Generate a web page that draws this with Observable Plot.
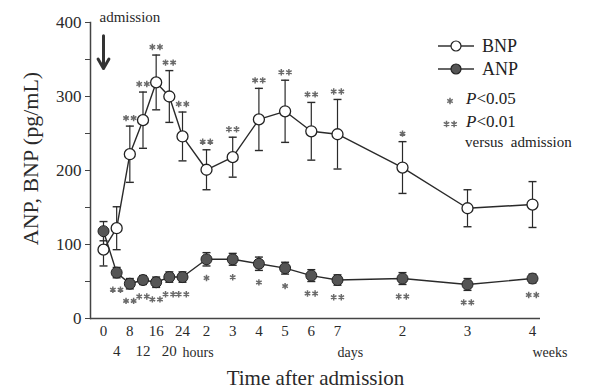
<!DOCTYPE html>
<html>
<head>
<meta charset="utf-8">
<script src="https://cdn.jsdelivr.net/npm/d3@7"></script>
<script src="https://cdn.jsdelivr.net/npm/@observablehq/plot@0.6"></script>
<style>
  body { margin: 0; background: #fff; }
  #wrap { position: relative; width: 593px; height: 392px; font-family: "Liberation Serif", serif; color: #222; }
  .lg { position: absolute; white-space: nowrap; line-height: 1; }
</style>
</head>
<body>
<div id="wrap"></div>
<script>
// time points in hours after admission
const hours = [0, 4, 8, 12, 16, 20, 24, 48, 72, 96, 120, 144, 168, 336, 504, 672];
// BNP (pg/mL): mean and error
const bnp    = [93, 122, 222, 268, 319, 300, 246, 201, 218, 269, 280, 253, 249, 204, 149, 154];
const bnpErr = [22, 29, 38, 38, 37, 35, 33, 27, 27, 42, 42, 39, 47, 35, 25, 31];
const bnpSig = ["", "", "**", "**", "**", "**", "**", "**", "**", "**", "**", "**", "**", "*", "", ""];
// ANP (pg/mL): mean and error
const anp    = [118, 62, 47, 52, 49, 56, 56, 80, 80, 74, 68, 58, 52, 54, 46, 54];
const anpErr = [13, 7, 7, 6, 7, 7, 7, 9, 8, 9, 8, 8, 7, 8, 8, 6];
const anpSig = ["", "**", "**", "**", "**", "**", "**", "*", "*", "*", "*", "**", "**", "**", "**", "**"];
// x tick labels (two staggered rows)
const tickTop = [0, 8, 16, 24, 48, 72, 96, 120, 144, 168, 336, 504, 672];
const tickBottom = [4, 12, 20];
const unitLabels = ["hours", "days", "weeks"];
const unitAt = [24, 168, 672];
const yTicks = [0, 50, 100, 150, 200, 250, 300, 350, 400];

const fmtX = h => h <= 24 ? String(h) : h <= 168 ? String(h / 24) : String(h / 168);

const B = hours.map((h, i) => ({h, v: bnp[i], e: bnpErr[i], s: bnpSig[i]}));
const A = hours.map((h, i) => ({h, v: anp[i], e: anpErr[i], s: anpSig[i]}));

const cap = {draw(ctx) { ctx.moveTo(-4, 0); ctx.lineTo(4, 0); }};
const star = {draw(ctx) {
  const r = 3.2;
  for (let k = 0; k < 3; k++) {
    const a = Math.PI / 2 + k * Math.PI / 3;
    ctx.moveTo(r * Math.cos(a), r * Math.sin(a));
    ctx.lineTo(-r * Math.cos(a), -r * Math.sin(a));
  }
}};
const ink = "#2a2a2a";
const starInk = "#6a6a6a";

function starMarks(data, yFn, dy) {
  const one = data.filter(d => d.s === "*");
  const two = data.filter(d => d.s === "**");
  const o = {x: "h", y: yFn, symbol: star, fill: "none", stroke: starInk, strokeWidth: 1.5, dy};
  return [
    Plot.dot(one, o),
    Plot.dot(two, {...o, dx: -3.8}),
    Plot.dot(two, {...o, dx: 3.8})
  ];
}

const chart = Plot.plot({
  width: 593,
  height: 392,
  marginLeft: 90,
  marginRight: 53,
  marginTop: 22,
  marginBottom: 74,
  style: {fontFamily: "Liberation Serif, serif", background: "white", color: ink},
  x: {type: "linear", domain: [0, 24, 48, 168, 672], range: [103, 182, 206, 337, 532]},
  y: {domain: [0, 400]},
  marks: [
    Plot.frame({anchor: "left", stroke: "#444", strokeWidth: 1.5}),
    Plot.ruleY([0], {stroke: "#444", strokeWidth: 1.5}),
    Plot.axisY({ticks: yTicks, tickFormat: d => d % 100 ? "" : d, tickSize: 5, tickPadding: 4, fontSize: 17, label: null, stroke: "#444"}),
    Plot.axisX({ticks: tickTop, tickFormat: fmtX, tickSize: 0, tickPadding: 7, fontSize: 15, label: null}),
    Plot.axisX({ticks: tickBottom, tickFormat: fmtX, tickSize: 0, tickPadding: 27, fontSize: 15, label: null}),
    Plot.text(unitLabels, {x: (d, i) => unitAt[i], frameAnchor: "bottom", text: d => d, textAnchor: "start",
      dy: 38, fontSize: 14}),
    Plot.text(["Time after admission"], {frameAnchor: "bottom", dy: 66, fontSize: 21}),
    Plot.text(["ANP, BNP (pg/mL)"], {frameAnchor: "left", textAnchor: "middle", rotate: -90, dx: -60, dy: -12, fontSize: 22}),
    // admission marker
    Plot.text(["admission"], {x: 0, y: 400, textAnchor: "start", lineAnchor: "bottom", dx: -4, dy: -1, fontSize: 15}),
    Plot.arrow([0], {x1: 0, x2: 0, y1: 382, y2: 338, stroke: "#333", strokeWidth: 3, headLength: 9}),
    // error bars
    Plot.ruleX(B, {x: "h", y1: d => d.v - d.e, y2: d => d.v + d.e, stroke: ink, strokeWidth: 1.2}),
    Plot.dot(B, {x: "h", y: d => d.v + d.e, symbol: cap, fill: "none", stroke: ink, strokeWidth: 1.4}),
    Plot.dot(B, {x: "h", y: d => d.v - d.e, symbol: cap, fill: "none", stroke: ink, strokeWidth: 1.4}),
    Plot.ruleX(A, {x: "h", y1: d => d.v - d.e, y2: d => d.v + d.e, stroke: ink, strokeWidth: 1.2}),
    Plot.dot(A, {x: "h", y: d => d.v + d.e, symbol: cap, fill: "none", stroke: ink, strokeWidth: 1.4}),
    Plot.dot(A, {x: "h", y: d => d.v - d.e, symbol: cap, fill: "none", stroke: ink, strokeWidth: 1.4}),
    // lines
    Plot.line(B, {x: "h", y: "v", stroke: ink, strokeWidth: 1.4}),
    Plot.line(A, {x: "h", y: "v", stroke: ink, strokeWidth: 1.4}),
    // markers
    Plot.dot(A, {x: "h", y: "v", r: 5.5, fill: "#555", stroke: "#222", strokeWidth: 1}),
    Plot.dot(B, {x: "h", y: "v", r: 5.5, fill: "white", stroke: "#222", strokeWidth: 1.3}),
    // significance
    ...starMarks(B, d => d.v + d.e, -8),
    ...starMarks(A, d => d.v - d.e, 12)
  ]
});

const wrap = document.getElementById("wrap");
wrap.appendChild(chart);

// legend
function add(html, left, top, style = "") {
  const d = document.createElement("div");
  d.className = "lg";
  d.style.left = left + "px";
  d.style.top = top + "px";
  d.style.cssText += style;
  d.innerHTML = html;
  wrap.appendChild(d);
}
const sym = fill => `<svg width="38" height="14" style="display:block"><line x1="1" x2="37" y1="7" y2="7" stroke="#333" stroke-width="1.3"/><circle cx="19" cy="7" r="5" fill="${fill}" stroke="#222" stroke-width="1.2"/></svg>`;
const starSvg = n => {
  const path = cx => [0, 1, 2].map(k => {
    const a = Math.PI / 2 + k * Math.PI / 3, r = 3.2;
    return `M${cx + r * Math.cos(a)},${7 + r * Math.sin(a)}L${cx - r * Math.cos(a)},${7 - r * Math.sin(a)}`;
  }).join("");
  const d = n === 1 ? path(7) : path(3.5) + path(11.1);
  return `<svg width="15" height="14" style="display:block"><path d="${d}" stroke="${starInk}" stroke-width="1.5" fill="none"/></svg>`;
};
add(sym("white"), 437, 39);
add("BNP", 482, 37, "font-size:18px;");
add(sym("#555"), 437, 62);
add("ANP", 482, 60, "font-size:18px;");
add(starSvg(1), 443, 94);
add("<i>P</i>&lt;0.05", 466, 90, "font-size:17px;");
add(starSvg(2), 443, 117);
add("<i>P</i>&lt;0.01", 466, 113, "font-size:17px;");
add("versus&nbsp; admission", 465, 135, "font-size:15px;");
</script>
</body>
</html>
